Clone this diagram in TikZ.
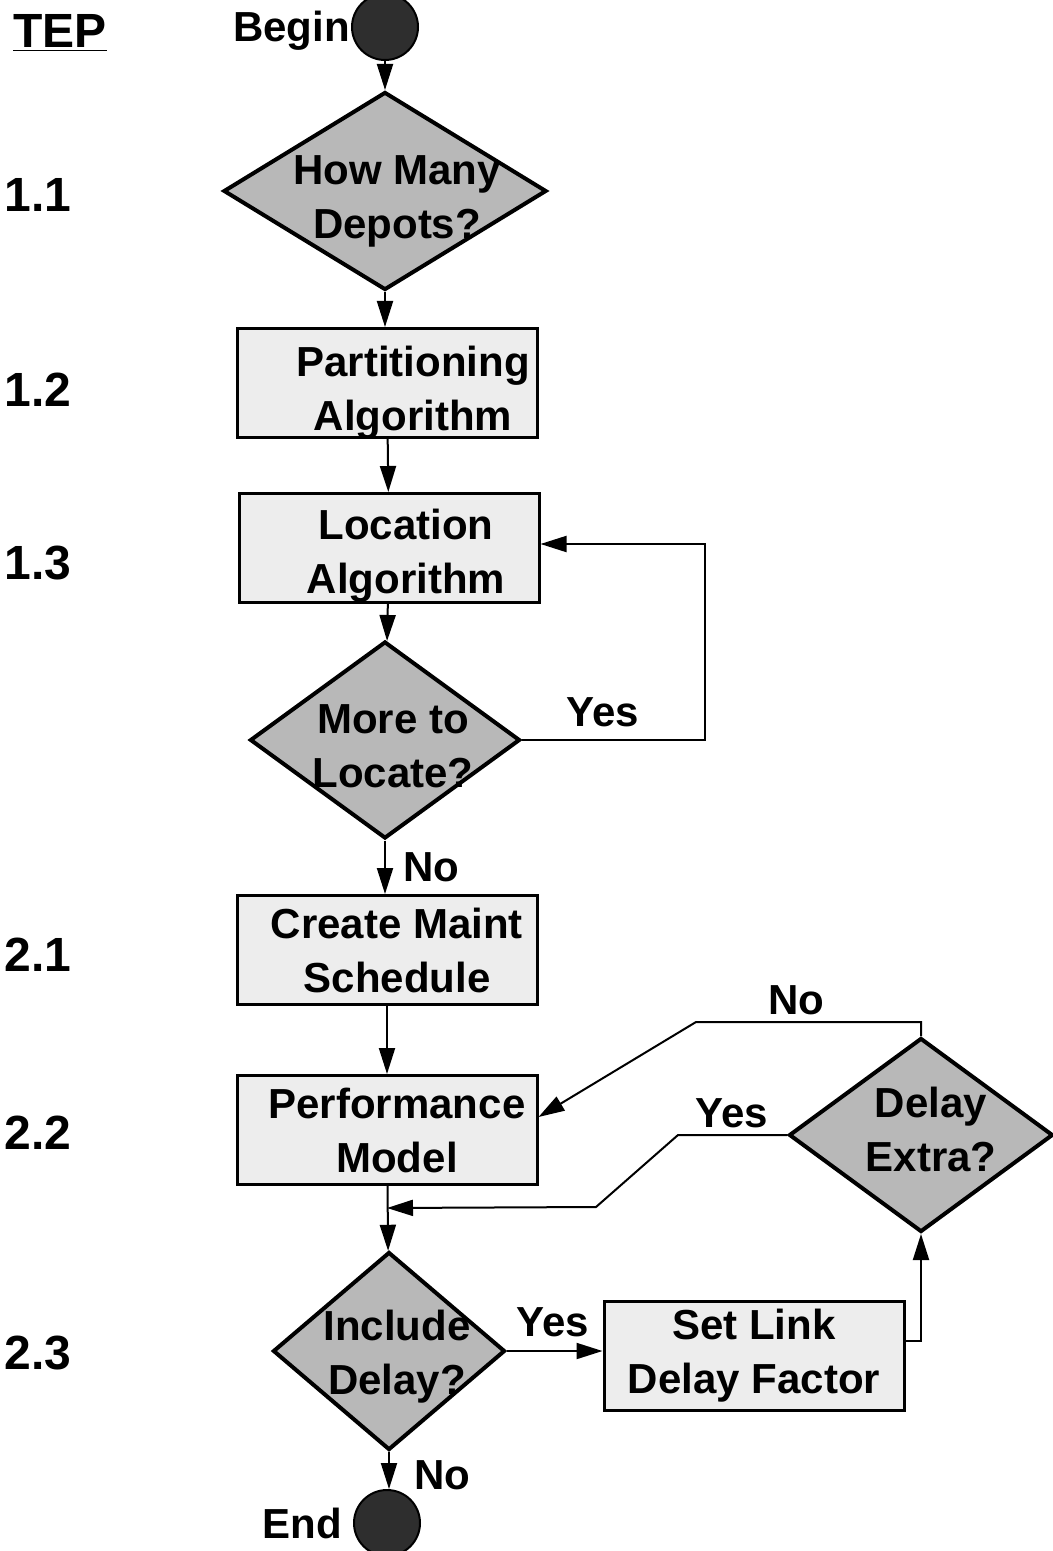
\documentclass[tikz,border=0pt]{standalone}
\usepackage{fontspec}
\setmainfont{Liberation Sans}
\usetikzlibrary{positioning,arrows.meta,shapes.geometric}
\tikzset{
  flowarrow/.style={-{Triangle[length=13pt, width=8pt]}, line width=1pt},
  procbox/.style={draw, line width=1.5pt, fill=black!7, minimum width=150pt, minimum height=54.5pt, align=center},
  decision/.style={diamond, draw, line width=2pt, fill=black!28, inner sep=0pt},
  terminal/.style={circle, draw, line width=1pt, fill=black!82, minimum size=33pt, inner sep=0pt},
  inlabel/.style={align=center},
  sidelabel/.style={font=\bfseries\fontsize{24}{28}\selectfont}
}
\begin{document}
\begin{tikzpicture}[x=0.5pt, y=-0.5pt, >=Latex, every node/.style={font=\bfseries\fontsize{21}{27}\selectfont}]
  \useasboundingbox (0,0) rectangle (1053,1551);
  % step numbers
  \node[sidelabel] (tep) at (60,33) {\underline{TEP}};
  \node[sidelabel] (s11) at (38,195) {1.1};
  \node[sidelabel] (s12) at (38,390) {1.2};
  \node[sidelabel] (s13) at (38,563) {1.3};
  \node[sidelabel] (s21) at (38,955) {2.1};
  \node[sidelabel] (s22) at (38,1133) {2.2};
  \node[sidelabel] (s23) at (38,1353) {2.3};
  % main column
  \node[terminal, label={[xshift=3pt, yshift=-2pt]left:Begin}] (begin) at (385,27) {};
  \node[decision, minimum width=161.5pt, minimum height=99pt,
        label={[inlabel, xshift=6pt, yshift=-5pt]center:How Many\\Depots?}] (depots) at (385,191) {};
  \node[procbox] (part) at (387,383) {\hspace*{26pt}\raisebox{-10pt}[0pt][0pt]{\begin{tabular}{@{}c@{}}Partitioning\\Algorithm\end{tabular}}};
  \node[procbox] (loc) at (389,548) {\hspace*{17pt}\raisebox{-9pt}[0pt][0pt]{\begin{tabular}{@{}c@{}}Location\\Algorithm\end{tabular}}};
  \node[decision, minimum width=135pt, minimum height=98.5pt,
        label={[inlabel, xshift=4pt, yshift=-3pt]center:More to\\Locate?}] (more) at (385,740) {};
  \node[procbox] (maint) at (387,950) {\hspace*{10pt}Create Maint\\\hspace*{10pt}Schedule};
  \node[procbox] (perf) at (387,1130) {\hspace*{10pt}Performance\\\hspace*{10pt}Model};
  \node[decision, minimum width=116pt, minimum height=99pt,
        label={[inlabel, xshift=4pt, yshift=-3pt]center:Include\\Delay?}] (incl) at (389,1351) {};
  \node[terminal, label={[xshift=-2pt]left:End}] (endc) at (387,1523) {};
  % delay branch
  \node[procbox] (setlink) at (754,1356) {Set Link\\Delay Factor};
  \node[decision, minimum width=132pt, minimum height=97pt,
        label={[inlabel, xshift=5pt, yshift=3pt]center:Delay\\Extra?}] (extra) at (921,1135) {};
  \coordinate (merge) at (387,1208);
  % branch labels
  \node (yes1) at (603,712) {Yes};
  \node (no1) at (431,867) {No};
  \node (no2) at (796,1000) {No};
  \node (yes2) at (732,1113) {Yes};
  \node (yes3) at (553,1322) {Yes};
  \node (no3) at (442,1475) {No};
  % connectors
  \draw[flowarrow] (begin) -- (depots);
  \draw[flowarrow] (depots) -- (depots |- part.north);
  \draw[flowarrow] (part) -- (loc);
  \draw[flowarrow] (loc) -- (more);
  \draw[flowarrow] (more.east) -- ++(183,0) |- ([yshift=2pt]loc.east);
  \draw[flowarrow] (more) -- (more |- maint.north);
  \draw[flowarrow] (maint) -- (perf);
  \draw[flowarrow] (perf) -- (incl);
  \draw[flowarrow] (incl.east) -- (incl.east -| setlink.west);
  \draw[flowarrow] ([yshift=7.5pt]setlink.east) -| (extra.south);
  \draw[flowarrow] (extra.north) -- ++(0,-14) -- ++(-225,0) -- ([yshift=6.5pt]perf.east);
  \draw[flowarrow] (extra.west) -- ++(-109,0) -- ++(-82,72) -- (merge);
  \draw[flowarrow] (incl) -- (incl |- endc.north);
\end{tikzpicture}
\end{document}
